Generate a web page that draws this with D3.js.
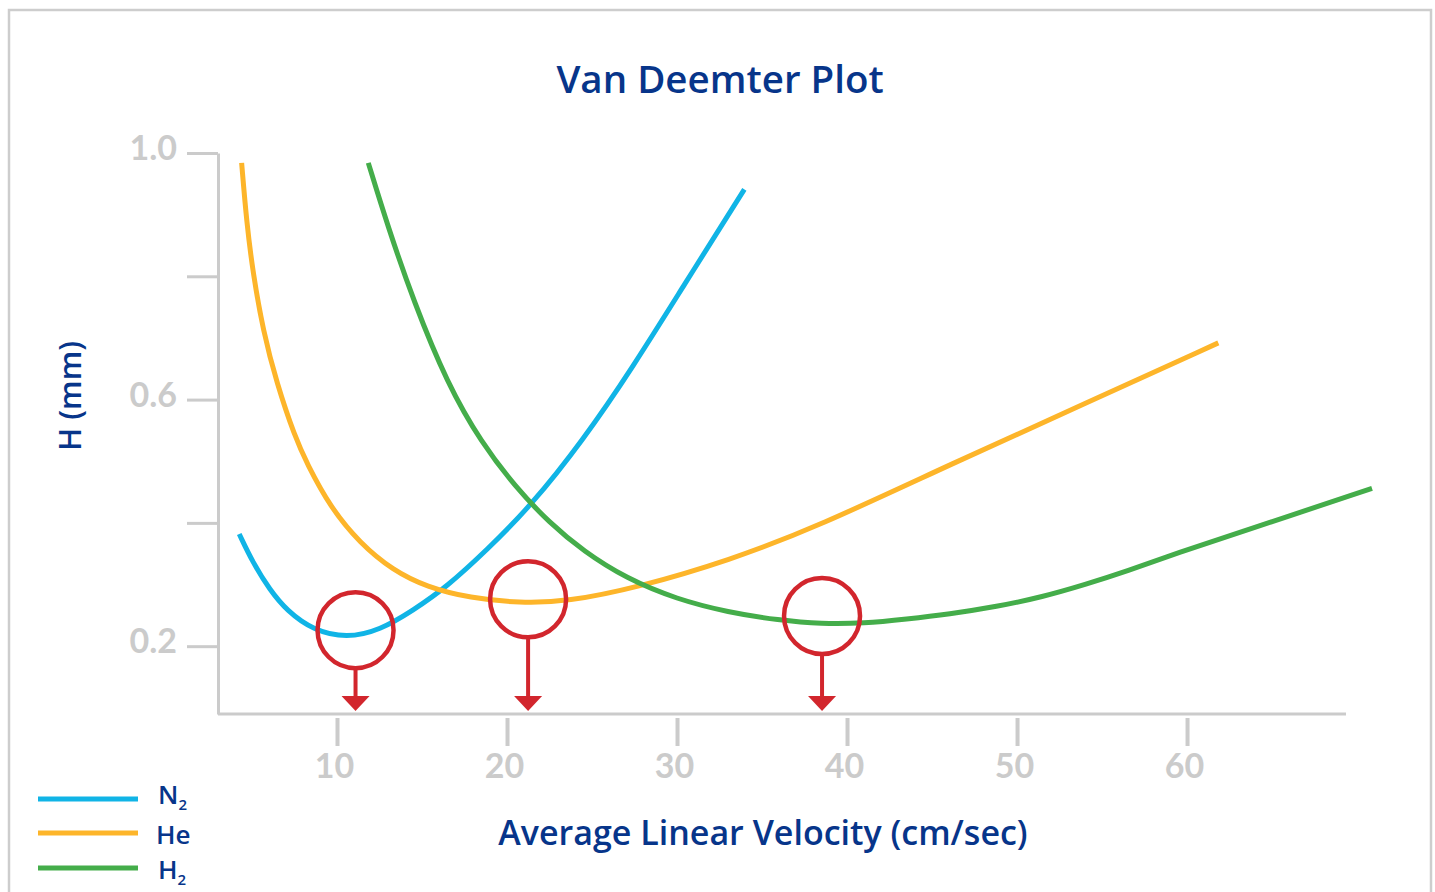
<!DOCTYPE html>
<html>
<head>
<meta charset="utf-8">
<script src="https://cdn.jsdelivr.net/npm/d3@7"></script>
<style>
  body { margin: 0; background: #fff; }
  svg { display: block; font-family: "Open Sans", Lato, sans-serif; }
</style>
</head>
<body>
<script>
// velocities (cm/sec) and plate heights H (mm)
var n2U = [4.25, 5.06, 6.06, 7.04, 8.59, 10.57, 12.53, 14.47, 16.45, 18.81, 21.35, 24.47, 27.41, 30.35, 33.96];
var n2H = [0.382, 0.335, 0.291, 0.258, 0.226, 0.213, 0.226, 0.258, 0.296, 0.356, 0.426, 0.534, 0.653, 0.783, 0.941];

var heU = [4.39, 4.69, 5.06, 5.65, 6.45, 7.53, 8.22, 9.59, 11.35, 13.29, 15.28, 17.82, 20.76, 23.51, 27.78, 33.04, 38.29, 46.16, 54.04, 61.84];
var heH = [0.984, 0.886, 0.805, 0.712, 0.627, 0.539, 0.497, 0.426, 0.367, 0.323, 0.296, 0.278, 0.270, 0.272, 0.296, 0.339, 0.394, 0.496, 0.594, 0.692];

var h2U = [11.84, 13.0, 14.5, 16.5, 18.5, 20.5, 22.5, 24.5, 27.0, 30.0, 33.0, 36.0, 38.5, 41.0, 43.5, 46.0, 48.8, 51.5, 54.0, 56.5, 59.3, 63.7, 70.88];
var h2H = [0.984, 0.880, 0.760, 0.625, 0.530, 0.458, 0.400, 0.354, 0.310, 0.276, 0.255, 0.242, 0.236, 0.237, 0.244, 0.252, 0.264, 0.280, 0.300, 0.322, 0.350, 0.390, 0.456];

// optimum points marked with circles
var optU = [11.09, 21.24, 38.53];
var optH = [0.226, 0.276, 0.249];

var xTicks = [10, 20, 30, 40, 50, 60];
var yTicks = [0.2, 0.4, 0.6, 0.8, 1.0];
var yLabels = ['0.2', '', '0.6', '', '1.0'];

var seriesNames = ['N', 'He', 'H'];
var seriesSubs = ['2', '', '2'];
var colors = ['#10b4e6', '#fdb52a', '#44ad4a'];

const w = 1435;
const h = 892;
const navy = '#07358a';
const gray = '#cbcbcb';
const red = '#d2262d';

const svg = d3.select('body').append('svg').attr('width', w).attr('height', h);

// outer frame
svg.append('rect').attr('x', 9).attr('y', 10).attr('width', 1422).attr('height', 900)
  .attr('fill', 'none').attr('stroke', '#cdcdcd').attr('stroke-width', 2.5);

const xScale = d3.scaleLinear().domain([3, 69.35]).range([218, 1346]);
const yScale = d3.scaleLinear().domain([0.09, 1.0]).range([714, 153]);

// title
svg.append('text').attr('x', 720).attr('y', 93).attr('text-anchor', 'middle')
  .attr('fill', navy).attr('font-size', 38.5).attr('font-weight', 600).text('Van Deemter Plot');

// y axis
const yAxis = d3.axisLeft(yScale).tickValues(yTicks).tickSize(31).tickSizeOuter(0).tickPadding(10)
  .tickFormat((d, i) => yLabels[i]);
const gy = svg.append('g').attr('transform', 'translate(218,0)').call(yAxis);
gy.select('.domain').attr('stroke', gray).attr('stroke-width', 3);
gy.selectAll('.tick line').attr('stroke', gray).attr('stroke-width', 3);
gy.selectAll('.tick text').attr('fill', gray).attr('font-size', 34).attr('font-weight', 700)
  .attr('font-family', 'Lato, sans-serif').attr('dy', '0.2em');

// x axis line
svg.append('line').attr('x1', xScale.range()[0]).attr('x2', xScale.range()[1])
  .attr('y1', yScale(0.09)).attr('y2', yScale(0.09)).attr('stroke', gray).attr('stroke-width', 3);

// x ticks sit a little below the line
const xAxis = d3.axisBottom(xScale).tickValues(xTicks).tickSize(28).tickPadding(8).tickFormat(d3.format('d'));
const gx = svg.append('g').attr('transform', 'translate(0,718)').call(xAxis);
gx.select('.domain').remove();
gx.selectAll('.tick line').attr('stroke', gray).attr('stroke-width', 4);
gx.selectAll('.tick text').attr('fill', gray).attr('font-size', 34).attr('font-weight', 700)
  .attr('font-family', 'Lato, sans-serif').attr('dx', -3);

// axis titles
svg.append('text').attr('transform', 'translate(81,396) rotate(-90)').attr('text-anchor', 'middle')
  .attr('fill', navy).attr('font-size', 31).attr('font-weight', 600).text('H (mm)');

svg.append('text').attr('x', 763).attr('y', 845).attr('text-anchor', 'middle')
  .attr('fill', navy).attr('font-size', 34).attr('font-weight', 600).text('Average Linear Velocity (cm/sec)');

// curves
const line = d3.line().x((d) => xScale(d[0])).y((d) => yScale(d[1])).curve(d3.curveBasis);
const series = [
  d3.zip(n2U, n2H),
  d3.zip(heU, heH),
  d3.zip(h2U, h2H)
];
svg.selectAll('path.curve').data(series).enter().append('path').attr('class', 'curve')
  .attr('d', line).attr('fill', 'none').attr('stroke', (d, i) => colors[i]).attr('stroke-width', 5);

// optimum markers
const r = 38;
const opts = d3.zip(optU, optH);
const mk = svg.selectAll('g.opt').data(opts).enter().append('g').attr('class', 'opt');
mk.append('circle').attr('cx', (d) => xScale(d[0])).attr('cy', (d) => yScale(d[1])).attr('r', r)
  .attr('fill', 'none').attr('stroke', red).attr('stroke-width', 4.5);
mk.append('line').attr('x1', (d) => xScale(d[0])).attr('x2', (d) => xScale(d[0]))
  .attr('y1', (d) => yScale(d[1]) + r).attr('y2', 698).attr('stroke', red).attr('stroke-width', 4);
mk.append('path').attr('fill', red).attr('d', (d) => {
  var x = xScale(d[0]);
  return 'M' + (x - 14) + ',696 L' + (x + 14) + ',696 L' + x + ',711 Z';
});

// legend
const legendY = [799, 833, 868];
const textY = [804, 844, 879];
const lg = svg.selectAll('g.legend').data(seriesNames).enter().append('g').attr('class', 'legend');
lg.append('line').attr('x1', 38).attr('x2', 138).attr('y1', (d, i) => legendY[i]).attr('y2', (d, i) => legendY[i])
  .attr('stroke', (d, i) => colors[i]).attr('stroke-width', 5);
const lt = lg.append('text').attr('x', (d, i) => i == 1 ? 156 : 158).attr('y', (d, i) => textY[i])
  .attr('fill', navy).attr('font-size', 26).attr('font-weight', 600);
lt.append('tspan').text((d) => d);
lt.append('tspan').attr('font-size', 15).attr('dy', 6).text((d, i) => seriesSubs[i]);
</script>
</body>
</html>
